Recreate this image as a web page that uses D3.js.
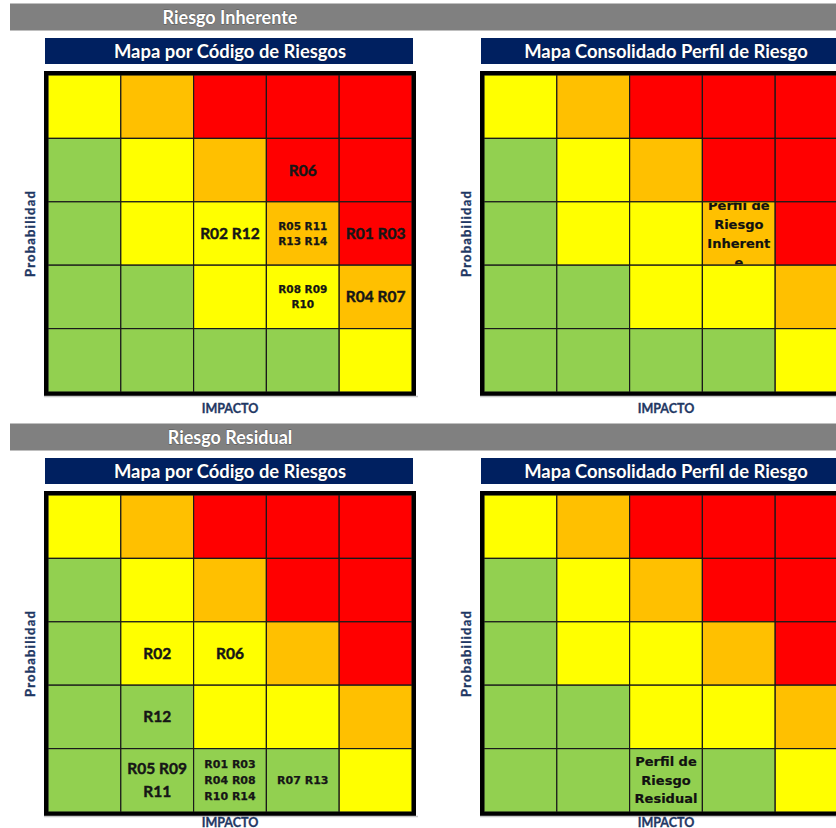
<!DOCTYPE html>
<html>
<head>
<meta charset="utf-8">
<script src="https://cdn.jsdelivr.net/npm/d3@7"></script>
<style>
  html, body { margin: 0; padding: 0; background: #fff; }
  svg { display: block; }
</style>
</head>
<body>
<div id="chart"></div>
<script>
// Matriz de calor 5x5: impacto (columnas) x probabilidad (filas, de 5 arriba a 1 abajo)
const IMPACTO = ["1", "2", "3", "4", "5"];
const PROBABILIDAD = ["5", "4", "3", "2", "1"];

const NIVELES = ["Bajo", "Moderado", "Alto", "Extremo"];
const COLORES = ["#92D050", "#FFFF00", "#FFC000", "#FF0000"];

// Zona de cada celda, fila por fila (probabilidad 5 -> 1)
const ZONAS = [
  ["Moderado", "Alto", "Extremo", "Extremo", "Extremo"],
  ["Bajo", "Moderado", "Alto", "Extremo", "Extremo"],
  ["Bajo", "Moderado", "Moderado", "Alto", "Extremo"],
  ["Bajo", "Bajo", "Moderado", "Moderado", "Alto"],
  ["Bajo", "Bajo", "Bajo", "Bajo", "Moderado"],
];

const SECCIONES = ["Riesgo Inherente", "Riesgo Residual"];
const TITULOS = ["Mapa por Código de Riesgos", "Mapa Consolidado Perfil de Riesgo"];

const INHERENTE_CODIGOS = [
  { prob: "4", imp: "4", codigos: ["R06"] },
  { prob: "3", imp: "3", codigos: ["R02", "R12"] },
  { prob: "3", imp: "4", codigos: ["R05", "R11", "R13", "R14"] },
  { prob: "3", imp: "5", codigos: ["R01", "R03"] },
  { prob: "2", imp: "4", codigos: ["R08", "R09", "R10"] },
  { prob: "2", imp: "5", codigos: ["R04", "R07"] },
];

const RESIDUAL_CODIGOS = [
  { prob: "3", imp: "2", codigos: ["R02"] },
  { prob: "3", imp: "3", codigos: ["R06"] },
  { prob: "2", imp: "2", codigos: ["R12"] },
  { prob: "1", imp: "2", codigos: ["R05", "R09", "R11"] },
  { prob: "1", imp: "3", codigos: ["R01", "R03", "R04", "R08", "R10", "R14"] },
  { prob: "1", imp: "4", codigos: ["R07", "R13"] },
];

const PERFIL_INHERENTE = { prob: "3", imp: "4", texto: "Perfil de Riesgo Inherente" };
const PERFIL_RESIDUAL = { prob: "1", imp: "3", texto: "Perfil de Riesgo Residual" };

// ---- layout ----
const W = 836, H = 828;
const NAVY = "#002060";
const AXIS_BLUE = "#1F3864";
const SECTION_DY = 420;
const PANEL_DX = 436;
const IMPACTO_Y = [408, 402];

// celdas que en la hoja original aparecen con fuente reducida
const COMPACT = new Set(["0-3-4", "0-2-4", "1-1-3", "1-1-4"]);

const color = d3.scaleOrdinal().domain(NIVELES).range(COLORES);

const svg = d3.select("#chart").append("svg")
  .attr("width", W).attr("height", H)
  .attr("viewBox", `0 0 ${W} ${H}`);

const measurer = svg.append("text").attr("visibility", "hidden");
function textWidth(str, font) {
  measurer.style("font", font).text(str);
  return measurer.node().getComputedTextLength();
}

// envoltura tipo Excel: por palabras y, si una palabra no cabe, por letras
function wrap(str, font, maxW) {
  const lines = [];
  let cur = "";
  str.split(" ").forEach(word => {
    const test = cur ? cur + " " + word : word;
    if (textWidth(test, font) <= maxW) { cur = test; return; }
    if (cur) lines.push(cur);
    cur = "";
    let w = word;
    while (textWidth(w, font) > maxW) {
      let k = w.length - 1;
      while (k > 1 && textWidth(w.slice(0, k), font) > maxW) k--;
      lines.push(w.slice(0, k));
      w = w.slice(k);
    }
    cur = w;
  });
  if (cur) lines.push(cur);
  return lines;
}

function chunk(arr, n) {
  const out = [];
  for (let i = 0; i < arr.length; i += n) out.push(arr.slice(i, i + n).join(" "));
  return out;
}

let clipId = 0;

function drawPanel(g, si, title, codigos, perfil) {
  const x = d3.scaleBand().domain(IMPACTO).range([48, 412]).padding(0);
  const y = d3.scaleBand().domain(PROBABILIDAD).range([75, 392]).padding(0);

  // encabezado azul
  g.append("rect")
    .attr("x", 45).attr("y", 38).attr("width", 368).attr("height", 26)
    .attr("fill", NAVY);
  g.append("text")
    .attr("x", 230).attr("y", 57.5)
    .attr("text-anchor", "middle")
    .attr("fill", "#fff")
    .style("font", "bold 18.4px Lato, 'Open Sans', sans-serif")
    .style("paint-order", "stroke")
    .attr("stroke", "#0b1a3a").attr("stroke-width", 0.8)
    .text(title);

  // celdas
  const cells = [];
  PROBABILIDAD.forEach((p, r) => IMPACTO.forEach((i, c) => cells.push({ p, i, z: ZONAS[r][c] })));

  g.append("g").selectAll("rect")
    .data(cells)
    .join("rect")
    .attr("x", d => x(d.i))
    .attr("y", d => y(d.p))
    .attr("width", x.bandwidth())
    .attr("height", y.bandwidth())
    .attr("fill", d => color(d.z))
    .attr("stroke", "#1a1a1a")
    .attr("stroke-width", 1.2);

  // borde grueso
  g.append("rect")
    .attr("x", 46).attr("y", 73)
    .attr("width", 368).attr("height", 321)
    .attr("fill", "none")
    .attr("stroke", "#000")
    .attr("stroke-width", 4);
  g.append("line")
    .attr("x1", 44).attr("x2", 418).attr("y1", 396.5).attr("y2", 396.5)
    .attr("stroke", "#c8c8c8").attr("stroke-width", 1.5);

  // codigos de riesgo
  if (codigos) {
    codigos.forEach(d => {
      const compact = COMPACT.has(`${si}-${d.prob}-${d.imp}`);
      const lines = chunk(d.codigos, 2);
      const fs = compact ? (si === 0 ? 10.5 : 11) : 15.5;
      const lh = compact ? (si === 0 ? 15 : 16) : 23;
      const cx = x(d.imp) + x.bandwidth() / 2;
      const cy = y(d.prob) + y.bandwidth() / 2;
      const t = g.append("text")
        .attr("text-anchor", "middle")
        .attr("fill", "#161616")
        .attr("stroke", "#161616")
        .attr("stroke-width", compact ? 0.25 : 0.45)
        .style("font", compact ? `bold ${fs}px 'DejaVu Sans', sans-serif`
                               : `bold ${fs}px Lato, sans-serif`);
      lines.forEach((ln, k) => {
        t.append("tspan")
          .attr("x", cx)
          .attr("y", cy + (k - (lines.length - 1) / 2) * lh)
          .attr("dy", "0.36em")
          .text(ln);
      });
    });
  }

  // perfil consolidado
  if (perfil) {
    const font = "bold 13px 'DejaVu Sans', sans-serif";
    const lines = wrap(perfil.texto, font, x.bandwidth() - 5);
    const lh = si === 0 ? 19 : 18.5;
    const cx = x(perfil.imp) + x.bandwidth() / 2;
    const cy = y(perfil.prob) + y.bandwidth() / 2;
    const id = "clip" + (clipId++);
    g.append("clipPath").attr("id", id)
      .append("rect")
      .attr("x", x(perfil.imp) + 1).attr("y", y(perfil.prob) + 1)
      .attr("width", x.bandwidth() - 2).attr("height", y.bandwidth() - 2);
    const t = g.append("text")
      .attr("clip-path", `url(#${id})`)
      .attr("text-anchor", "middle")
      .attr("fill", "#111")
      .attr("stroke", "#111").attr("stroke-width", 0.2)
      .style("font", font);
    lines.forEach((ln, k) => {
      t.append("tspan")
        .attr("x", cx)
        .attr("y", cy + (k - (lines.length - 1) / 2) * lh)
        .attr("dy", "0.36em")
        .text(ln);
    });
  }

  // etiquetas de ejes
  g.append("text")
    .attr("x", 230).attr("y", IMPACTO_Y[si])
    .attr("dy", "0.36em")
    .attr("text-anchor", "middle")
    .attr("fill", AXIS_BLUE)
    .attr("stroke", AXIS_BLUE).attr("stroke-width", 0.3)
    .style("font", "bold 12.5px Lato, sans-serif")
    .text("IMPACTO");

  g.append("text")
    .attr("transform", `translate(30,${(75 + 392) / 2}) rotate(-90)`)
    .attr("dy", "0.36em")
    .attr("text-anchor", "middle")
    .attr("fill", AXIS_BLUE)
    .attr("stroke", AXIS_BLUE).attr("stroke-width", 0.35)
    .style("font", "bold 13px Lato, sans-serif")
    .style("letter-spacing", "1.2px")
    .text("Probabilidad");
}

SECCIONES.forEach((sec, si) => {
  const sg = svg.append("g").attr("transform", `translate(0,${si * SECTION_DY})`);

  // barra gris de seccion
  sg.append("rect")
    .attr("x", 10).attr("y", 3.5).attr("width", W).attr("height", 27)
    .attr("fill", "#808080");
  sg.append("text")
    .attr("x", 230).attr("y", 23.5)
    .attr("text-anchor", "middle")
    .attr("fill", "#fff")
    .style("font", "bold 18px Lato, 'Open Sans', sans-serif")
    .style("paint-order", "stroke")
    .attr("stroke", "#555").attr("stroke-width", 0.8)
    .text(sec);

  const codigos = si === 0 ? INHERENTE_CODIGOS : RESIDUAL_CODIGOS;
  const perfil = si === 0 ? PERFIL_INHERENTE : PERFIL_RESIDUAL;

  TITULOS.forEach((title, pi) => {
    const pg = sg.append("g").attr("transform", `translate(${pi * PANEL_DX},0)`);
    drawPanel(pg, si, title, pi === 0 ? codigos : null, pi === 1 ? perfil : null);
  });
});

measurer.remove();
</script>
</body>
</html>
